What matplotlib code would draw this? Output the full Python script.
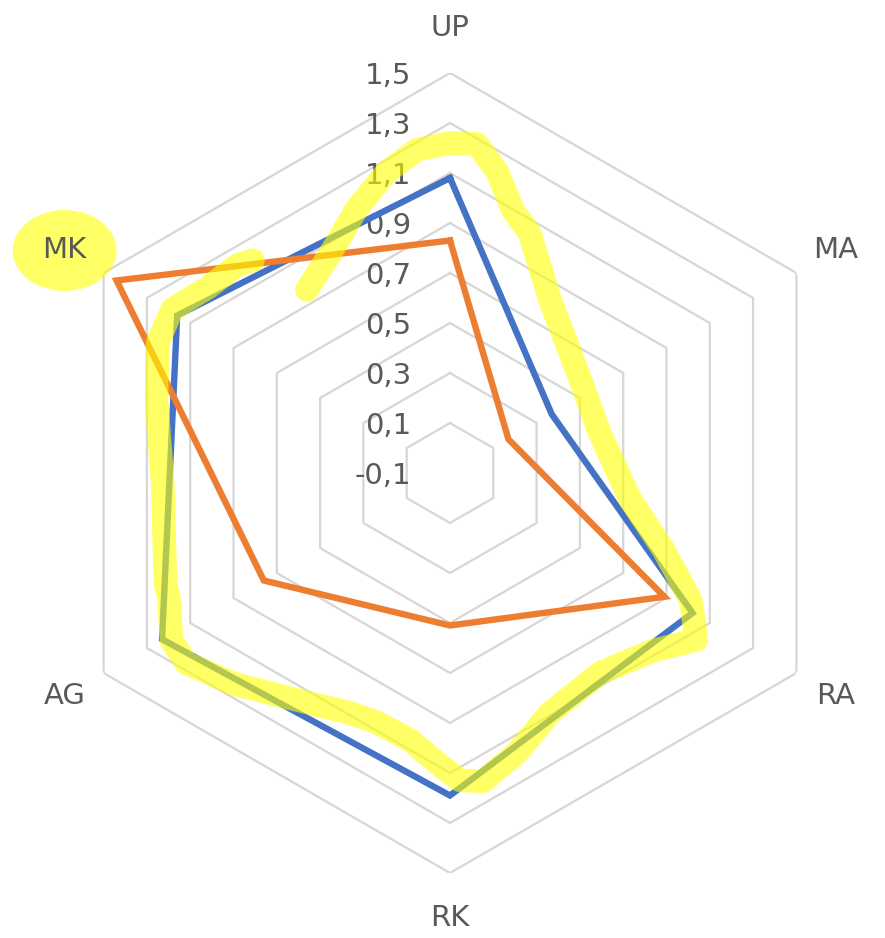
import numpy as np
import matplotlib.pyplot as plt

# Categorías y valores de las dos series
categorias = ["UP", "MA", "RA", "RK", "AG", "MK"]
serie_azul = [1.08, 0.37, 1.02, 1.19, 1.23, 1.16]
serie_naranja = [0.83, 0.17, 0.89, 0.51, 0.76, 1.44]

# Escala radial (mínimo en el centro) y anillos de la cuadrícula
r_min, r_max = -0.1, 1.5
anillos = [0.1, 0.3, 0.5, 0.7, 0.9, 1.1, 1.3, 1.5]
etiquetas_escala = [-0.1, 0.1, 0.3, 0.5, 0.7, 0.9, 1.1, 1.3, 1.5]

# Trazo de resaltador (ángulo en grados desde UP, valor radial)
resaltado_ang = [-38.0, -28.6, -19.5, -11.9, -5.8, 0.0, 4.7, 8.9, 13.5, 18.4,
                 30.0, 51.8, 75.1, 98.5, 109.9, 117.9, 124.1, 131.1, 143.1,
                 157.4, 166.5, 173.9, 178.1, 182.6, 188.5, 196.3, 202.7,
                 216.0, 225.9, 234.2, 239.0, 246.1, 248.9, 268.0, 284.0,
                 294.0, 300.5, 307.4, 314.3, 317.2]
resaltado_val = [0.83, 0.90, 1.02, 1.13, 1.20, 1.22, 1.22, 1.12, 0.98, 0.91,
                 0.70, 0.55, 0.52, 0.63, 0.81, 0.99, 1.09, 0.98, 0.90,
                 0.94, 1.05, 1.14, 1.13, 1.06, 0.98, 0.94, 0.94,
                 1.01, 1.11, 1.20, 1.20, 1.13, 1.12, 1.05, 1.11,
                 1.18, 1.19, 1.12, 1.09, 1.06]

gris_texto = "#595959"
gris_rejilla = "#D6D6D6"
azul = "#4472C4"
naranja = "#ED7D31"
amarillo = "#FFFF00"

n = len(categorias)
angulos = np.arange(n) * 2 * np.pi / n
cerrado = np.append(angulos, angulos[0])

fig = plt.figure(figsize=(8.85, 9.38), dpi=100)
ax = fig.add_axes([50 / 885, 65 / 938, 800 / 885, 800 / 938], polar=True)
ax.set_theta_zero_location("N")
ax.set_theta_direction(-1)
ax.set_ylim(r_min, r_max)
ax.grid(False)
ax.set_xticks([])
ax.set_yticks([])
ax.spines["polar"].set_visible(False)
ax.patch.set_visible(False)

# Cuadrícula hexagonal
for valor in anillos:
    ax.plot(cerrado, [valor] * (n + 1), color=gris_rejilla, lw=1.6, zorder=1)

# Series
ax.plot(cerrado, serie_azul + serie_azul[:1], color=azul, lw=4.6,
        solid_joinstyle="miter", zorder=3)
ax.plot(cerrado, serie_naranja + serie_naranja[:1], color=naranja, lw=4.6,
        solid_joinstyle="miter", zorder=4)

# Etiquetas de la escala junto al eje UP
for valor in etiquetas_escala:
    texto = f"{valor:.1f}".replace(".", ",")
    ax.annotate(texto, xy=(0, valor), xytext=(-28, 0), textcoords="offset points",
                ha="right", va="center_baseline", fontsize=21, color=gris_texto,
                zorder=2)

# Etiquetas de categorías
for ang, cat in zip(angulos, categorias):
    caja = None
    if cat == "MK":
        caja = dict(boxstyle="ellipse,pad=0.5", fc=amarillo, ec="none", alpha=0.6)
    ax.text(ang, 1.68, cat, ha="center", va="center", fontsize=21,
            color=gris_texto, bbox=caja, zorder=6)

# Resaltador amarillo sobre la serie azul
ax.plot(np.deg2rad(resaltado_ang), resaltado_val, color=amarillo, lw=17,
        alpha=0.6, solid_capstyle="round", solid_joinstyle="round", zorder=5)

fig.savefig("out.png", dpi=100, facecolor="white")
